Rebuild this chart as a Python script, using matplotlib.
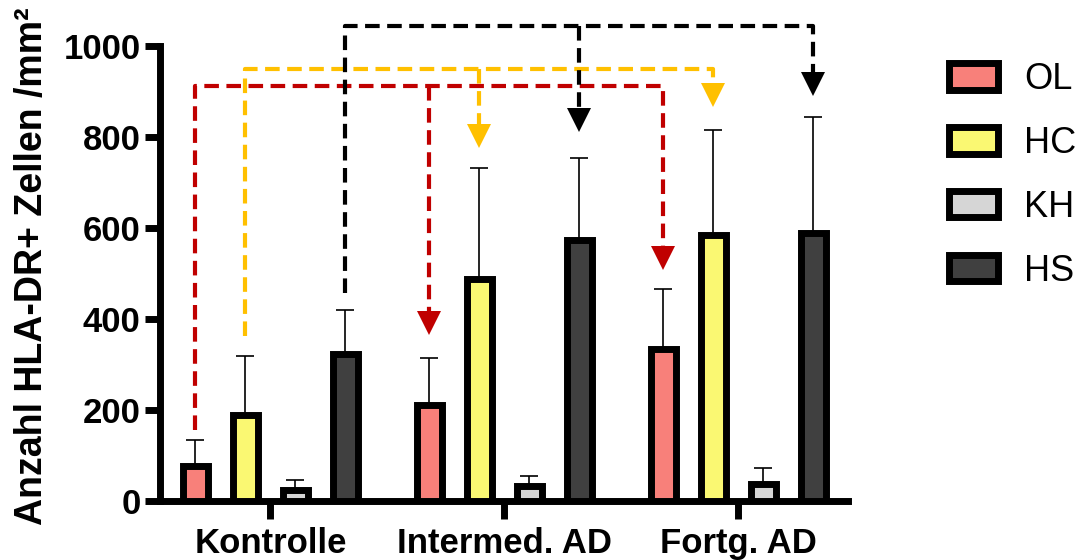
import matplotlib
matplotlib.use("Agg")
import matplotlib.pyplot as plt
import numpy as np
from matplotlib import transforms

# Groups, cell-type series and their means / error values (cells per mm²)
groups = ["Kontrolle", "Intermed. AD", "Fortg. AD"]
series = ["OL", "HC", "KH", "HS"]
ol_mean = [78, 211, 334]
hc_mean = [190, 488, 584]
kh_mean = [24, 33, 38]
hs_mean = [322, 573, 589]
ol_err = [56, 104, 131]
hc_err = [129, 244, 232]
kh_err = [22, 22, 34]
hs_err = [97, 181, 255]
y_ticks = [0, 200, 400, 600, 800, 1000]

colors = ["#F8807A", "#FAF872", "#D6D6D6", "#404040"]
means = [ol_mean, hc_mean, kh_mean, hs_mean]
errs = [ol_err, hc_err, kh_err, hs_err]

plt.rcParams["font.family"] = ["Liberation Sans", "DejaVu Sans"]

W, H = 1083, 560
fig = plt.figure(figsize=(W / 100, H / 100), dpi=100)
ax = fig.add_axes([160 / W, 59 / H, 688 / W, 455 / H])
ax.set_xlim(-0.472, 2.468)
ax.set_ylim(0, 1000)

step = 0.2137
width = 0.109
offsets = (np.arange(len(series)) - 1.5) * step
gx = np.arange(len(groups))

for i, name in enumerate(series):
    x = gx + offsets[i]
    ax.bar(x, means[i], width=width, color=colors[i], edgecolor="black",
           linewidth=5, zorder=3, label=name)
    ax.errorbar(x, means[i], yerr=[np.zeros(len(groups)), errs[i]], fmt="none",
                ecolor="black", elinewidth=1.2, capsize=6.5, capthick=1.2,
                zorder=2)

# Axes styling
for side in ["top", "right"]:
    ax.spines[side].set_visible(False)
for side in ["left", "bottom"]:
    ax.spines[side].set_linewidth(5)
ax.set_yticks(y_ticks)
ax.set_xticks(gx)
ax.set_xticklabels(groups)
ax.tick_params(axis="y", width=5, length=11, pad=3, labelsize=25)
ax.tick_params(axis="x", width=5, length=13, pad=6, labelsize=25)
for lab in ax.get_xticklabels() + ax.get_yticklabels():
    lab.set_fontweight("bold")
ax.set_ylabel("Anzahl HLA-DR+ Zellen /mm²", fontsize=27, fontweight="bold",
              labelpad=10)
ax.yaxis.label.set_y(0.516)

# Comparison brackets: series index, start height, bracket height, arrow tips
brackets = [
    (0, "#C00000", 157, 911, [366, 508]),
    (1, "#FFC000", 362, 950, [776, 866]),
    (3, "#000000", 457, 1045, [811, 890]),
]
ms = 17
fig.canvas.draw()
tri_off = transforms.offset_copy(ax.transData, fig=fig, y=ms / 2, units="points")


def base_of(x, tip):
    px = ax.transData.transform((x, tip))
    px[1] += ms * fig.dpi / 72 * 0.98
    return ax.transData.inverted().transform(px)[1]


dash = (0, (3.5, 1.8))
for idx, col, start, level, tips in brackets:
    x0 = gx[0] + offsets[idx]
    x1 = gx[1] + offsets[idx]
    x2 = gx[2] + offsets[idx]
    b1 = base_of(x1, tips[0])
    b2 = base_of(x2, tips[1])
    ax.plot([x0, x0, x2, x2], [start, level, level, b2], color=col, lw=3,
            linestyle=dash, dash_capstyle="butt", solid_joinstyle="miter",
            clip_on=False, zorder=4)
    ax.plot([x1, x1], [level, b1], color=col, lw=3, linestyle=dash,
            dash_capstyle="butt", clip_on=False, zorder=4)
    ax.plot([x1, x2], tips, linestyle="none", marker="v", markersize=ms,
            color=col, markeredgewidth=0, transform=tri_off, clip_on=False,
            zorder=5)

leg = ax.legend(loc="upper left", bbox_to_anchor=(949 / W, 1 - 62 / H),
                bbox_transform=fig.transFigure, frameon=False, fontsize=26,
                handlelength=1.36, handleheight=0.75, handletextpad=0.72,
                labelspacing=0.8, borderpad=0, borderaxespad=0)

fig.savefig("out.png", dpi=100)
